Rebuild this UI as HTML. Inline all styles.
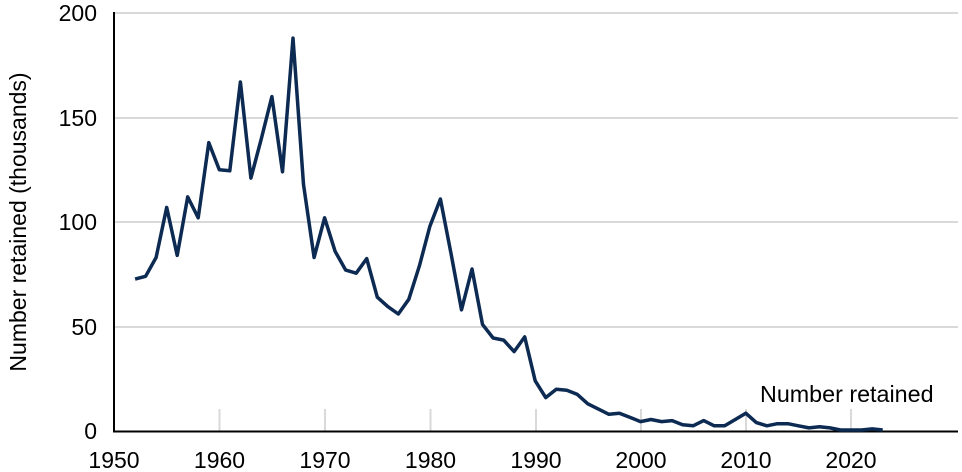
<!DOCTYPE html>
<html><head><meta charset="utf-8"><style>
html,body{margin:0;padding:0;background:#fff;width:962px;height:472px;overflow:hidden}
svg text{font-family:"Liberation Sans",Arial,sans-serif;fill:#000}
</style></head><body>
<svg id="s" width="962" height="472" xmlns="http://www.w3.org/2000/svg">
<g stroke="#d9d9d9" stroke-width="2">
<line x1="115" y1="13" x2="958" y2="13"/>
<line x1="115" y1="118" x2="958" y2="118"/>
<line x1="115" y1="222" x2="958" y2="222"/>
<line x1="115" y1="327" x2="958" y2="327"/>
<line x1="219.5" y1="409" x2="219.5" y2="431"/>
<line x1="325" y1="409" x2="325" y2="431"/>
<line x1="430.5" y1="409" x2="430.5" y2="431"/>
<line x1="536" y1="409" x2="536" y2="431"/>
<line x1="641" y1="409" x2="641" y2="431"/>
<line x1="746" y1="409" x2="746" y2="431"/>
<line x1="851" y1="409" x2="851" y2="431"/>
</g>
<line x1="114" y1="12" x2="114" y2="432" stroke="#000" stroke-width="2"/>
<line x1="113" y1="431.5" x2="958" y2="431.5" stroke="#000" stroke-width="2"/>
<g font-size="23" text-anchor="end">
<text x="97" y="439">0</text>
<text x="97" y="335">50</text>
<text x="97" y="230">100</text>
<text x="97" y="126">150</text>
<text x="97" y="21">200</text>
</g>
<g font-size="23" text-anchor="middle">
<text x="114" y="468">1950</text>
<text x="219.5" y="468">1960</text>
<text x="325" y="468">1970</text>
<text x="430.5" y="468">1980</text>
<text x="536" y="468">1990</text>
<text x="641" y="468">2000</text>
<text x="746" y="468">2010</text>
<text x="851" y="468">2020</text>
</g>
<text font-size="23" text-anchor="middle" transform="translate(26,222) rotate(-90)">Number retained (thousands)</text>
<text font-size="23.3" x="760" y="402">Number retained</text>
<polyline id="p" fill="none" stroke="#0c2a52" stroke-width="3.5" stroke-linejoin="round"/>
</svg>
<script>
var v=[72.7,74,83,107,84,112,102,138,125,124.5,167,121,140,160,124,188,118,83,102,86,77,75.5,82.5,64,59.5,56,63,79,98,111,85,58,77.5,51,44.5,43.5,38,45,24,16,20,19.5,17.5,13,10.5,8,8.5,6.5,4.5,5.5,4.5,5,3,2.5,5,2.5,2.5,5.5,8.5,4,2.5,3.5,3.5,2.5,1.5,2,1.5,0.5,0.5,0.5,1,0.5];
var pts=v.map(function(d,i){var yr=1952+i;return (114+10.53*(yr-1950)).toFixed(1)+","+(431-2.09*d).toFixed(1)}).join(" ");
document.getElementById("p").setAttribute("points",pts);
</script>
</body></html>
